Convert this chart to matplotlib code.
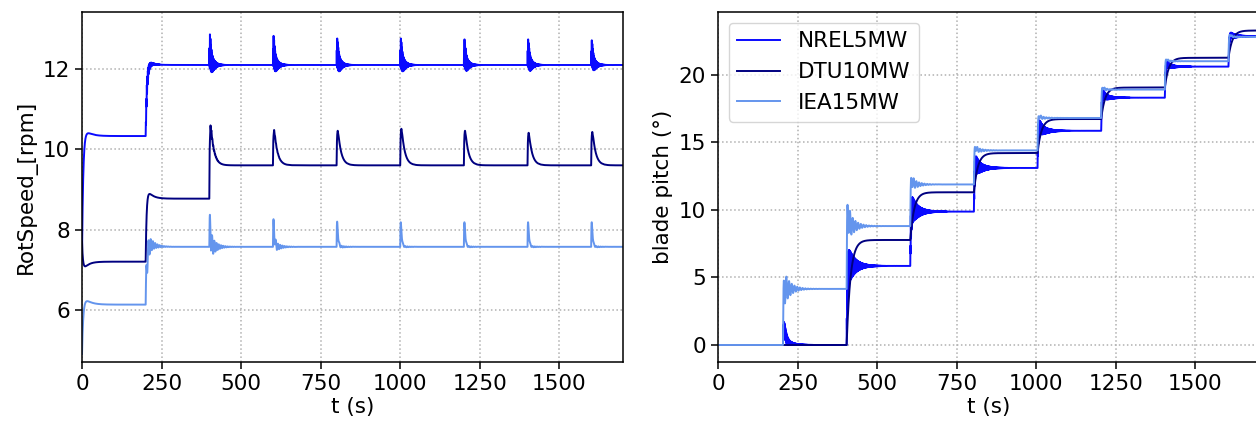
import numpy as np
import matplotlib
matplotlib.use("Agg")
import matplotlib.pyplot as plt

# wind steps every 200 s
step_times = [0, 200, 400, 600, 800, 1000, 1200, 1400, 1600]
t_end = 1700
names = ["NREL5MW", "DTU10MW", "IEA15MW"]
colors = ["#0a0aff", "#000080", "#6495ed"]

# rotor speed [rpm]: start value, settled level per step, peak after each step
rot_init = [7.4, 7.7, 4.9]
rot_levels = [
    [10.33, 12.10, 12.10, 12.10, 12.10, 12.10, 12.10, 12.10, 12.10],
    [7.20, 8.77, 9.60, 9.60, 9.60, 9.60, 9.60, 9.60, 9.60],
    [6.13, 7.57, 7.57, 7.57, 7.57, 7.57, 7.57, 7.57, 7.57],
]
rot_peaks = [
    [10.47, 12.15, 12.45, 12.45, 12.40, 12.40, 12.40, 12.40, 12.40],
    [7.05, 8.95, 10.60, 10.45, 10.45, 10.50, 10.45, 10.40, 10.42],
    [6.27, 7.65, 8.05, 8.10, 8.15, 8.15, 8.15, 8.15, 8.15],
]
rot_wiggle = [
    [0.00, 0.25, 0.55, 0.50, 0.48, 0.48, 0.45, 0.45, 0.42],
    [0.00, 0.00, 0.10, 0.05, 0.02, 0.02, 0.02, 0.02, 0.02],
    [0.00, 0.42, 0.40, 0.20, 0.06, 0.04, 0.04, 0.04, 0.04],
]

# blade pitch [deg]
pit_init = [0.0, 0.0, 0.0]
pit_levels = [
    [0.0, 0.0, 5.85, 9.87, 13.10, 15.85, 18.30, 20.60, 22.85],
    [0.0, 0.0, 7.77, 11.30, 14.20, 16.72, 19.05, 21.25, 23.27],
    [0.0, 4.15, 8.80, 11.88, 14.40, 16.80, 18.90, 21.00, 22.80],
]
pit_peaks = [
    [0.0, 1.2, 5.9, 10.2, 13.5, 16.3, 18.7, 20.9, 23.0],
    [0.0, 0.0, 7.77, 11.30, 14.20, 16.72, 19.05, 21.25, 23.27],
    [0.0, 4.3, 10.0, 12.4, 14.8, 17.1, 19.2, 21.3, 23.1],
]
pit_wiggle = [
    [0.0, 0.6, 1.8, 1.3, 0.9, 0.7, 0.4, 0.3, 0.3],
    [0.0, 0.0, 0.0, 0.0, 0.0, 0.0, 0.0, 0.0, 0.0],
    [0.0, 1.5, 1.5, 0.6, 0.3, 0.2, 0.15, 0.1, 0.1],
]

# response time constants per series: rise, bump decay, wiggle period, wiggle decay
rot_shape = [(1.5, 2.5, 1.6, 10.0), (1.5, 10.0, 3.0, 10.0), (1.2, 2.5, 7.0, 16.0)]
rot_first = [(4.0, 18.0), (3.0, 15.0), (4.0, 18.0)]
pit_shape = [(2.0, 6.0, 1.4, 22.0), (12.0, 10.0, 3.0, 10.0), (1.5, 4.0, 8.5, 20.0)]

t = np.arange(0, t_end + 0.05, 0.05)


def trace(init, levels, peaks, wiggle, shape, first=None, delay=0.0):
    rise, decay, period, wdecay = shape
    y = np.empty_like(t)
    prev = init
    for k, t0 in enumerate(step_times):
        t1 = step_times[k + 1] if k + 1 < len(step_times) else t_end + 1
        m = (t >= t0) & (t < t1)
        dt = np.clip(t[m] - t0 - (delay if k > 0 else 0.0), 0, None)
        r, d = (first if (k < 2 and first is not None) else (rise, decay))
        lvl = levels[k]
        base = lvl + (prev - lvl) * np.exp(-dt / r)
        bump = np.exp(-dt / d) - np.exp(-dt / r)
        bump = bump / max(bump.max(), 1e-9)
        osc = wiggle[k] * np.sin(2 * np.pi * dt / period) * np.exp(-dt / wdecay) * (1 - np.exp(-dt / 0.8))
        y[m] = base + (peaks[k] - lvl) * bump + osc
        prev = lvl
    return y


plt.rcParams["font.family"] = "DejaVu Sans"
plt.rcParams["font.size"] = 15.5

fig = plt.figure(figsize=(12.56, 4.26), dpi=100)
ax1 = fig.add_axes([0.0653, 0.1502, 0.4307, 0.8216])
ax2 = fig.add_axes([0.5717, 0.1502, 0.4307, 0.8216])

for i in range(3):
    y = trace(rot_init[i], rot_levels[i], rot_peaks[i], rot_wiggle[i], rot_shape[i], rot_first[i])
    ax1.plot(t, y, color=colors[i], lw=1.4)
    p = trace(pit_init[i], pit_levels[i], pit_peaks[i], pit_wiggle[i], pit_shape[i], delay=4.0)
    p = np.maximum(p, 0.0)
    ax2.plot(t, p, color=colors[i], lw=1.4, label=names[i])

ax1.set_xlim(0, 1700)
ax1.set_ylim(4.7, 13.42)
ax1.set_yticks([6, 8, 10, 12])
ax1.set_ylabel("RotSpeed_[rpm]")
ax1.set_xlabel("t (s)", labelpad=2)

ax2.set_xlim(0, 1700)
ax2.set_ylim(-1.26, 24.64)
ax2.set_yticks([0, 5, 10, 15, 20])
ax2.set_ylabel("blade pitch (°)")
ax2.set_xlabel("t (s)", labelpad=2)
ax2.legend(loc="upper left")

for ax in (ax1, ax2):
    ax.set_xticks([0, 250, 500, 750, 1000, 1250, 1500])
    ax.grid(True, linestyle=":", color="#b0b0b0", lw=1.1)
    ax.tick_params(length=5, width=1.1)
    for s in ax.spines.values():
        s.set_linewidth(1.1)

fig.savefig("out.png", dpi=100)
